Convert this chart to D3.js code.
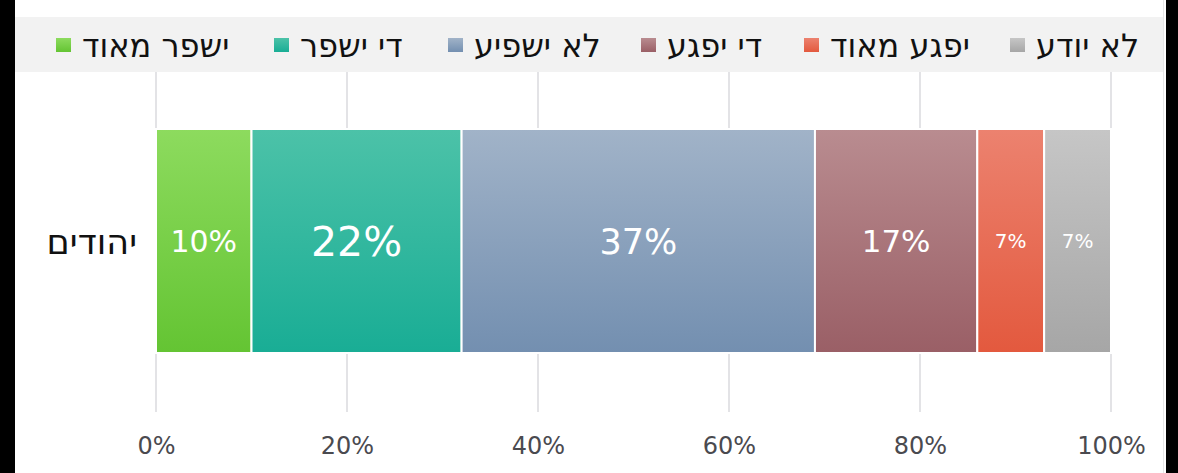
<!DOCTYPE html>
<html>
<head>
<meta charset="utf-8">
<script src="https://cdn.jsdelivr.net/npm/d3@7"></script>
<style>
  html, body { margin: 0; padding: 0; background: #000; }
  svg { display: block; }
  text { font-family: "DejaVu Sans", Verdana, sans-serif; }
</style>
</head>
<body>
<div id="chart-area"></div>
<script>
var categories = ["יהודים"];
var seriesNames = ["ישפר מאוד", "די ישפר", "לא ישפיע", "די יפגע", "יפגע מאוד", "לא יודע"];
var seriesValues = [10, 22, 37, 17, 7, 7];
var tickValues = [0, 20, 40, 60, 80, 100];

// gradient stops per series (top, bottom)
var colorsTop = ["#8ddb5e", "#4cc2a8", "#a1b3c8", "#b98c90", "#ec826f", "#c6c6c6"];
var colorsBottom = ["#64c433", "#19ad95", "#738fb0", "#9a5f66", "#e3593e", "#a6a6a6"];
var labelSizes = [30, 41, 35, 31, 20, 20];

var W = 1178, H = 473;
var svg = d3.select("#chart-area").append("svg")
  .attr("width", W).attr("height", H);

// white panel
svg.append("rect").attr("x", 15).attr("y", 0).attr("width", 1151).attr("height", H).attr("fill", "#fff");
svg.append("rect").attr("x", 1163).attr("y", 0).attr("width", 1).attr("height", H).attr("fill", "#e6e6e6");

var defs = svg.append("defs");
seriesNames.forEach(function(n, i) {
  var lg = defs.append("linearGradient").attr("id", "g" + i)
    .attr("x1", 0).attr("y1", 0).attr("x2", 0).attr("y2", 1);
  lg.append("stop").attr("offset", "0%").attr("stop-color", colorsTop[i]);
  lg.append("stop").attr("offset", "100%").attr("stop-color", colorsBottom[i]);
});

var x = d3.scaleLinear().domain([0, 100]).range([156, 1111]);
var y = d3.scaleBand().domain(categories).range([129, 353]);

// legend band
svg.append("rect").attr("x", 15).attr("y", 17).attr("width", 1148).attr("height", 55).attr("fill", "#f2f2f2");

// grid
var xAxis = d3.axisBottom(x).tickValues(tickValues).tickSize(0).tickFormat(function(d) { return d + "%"; });
svg.append("g").selectAll("line").data(tickValues).enter().append("line")
  .attr("x1", function(d) { return x(d); }).attr("x2", function(d) { return x(d); })
  .attr("y1", 72).attr("y2", 412)
  .attr("stroke", "#e3e3e6").attr("stroke-width", 2);

var axisG = svg.append("g").attr("transform", "translate(0,412)").call(xAxis);
axisG.select(".domain").remove();
axisG.selectAll("text")
  .attr("y", 42).attr("dy", 0)
  .attr("font-size", "24px")
  .attr("fill", "#4a4a4f")
  .style("font-family", "DejaVu Sans, sans-serif");

// stacked segments
var cum = 0;
var segs = seriesValues.map(function(v, i) {
  var s = { name: seriesNames[i], value: v, x0: cum, x1: cum + v, i: i };
  cum += v;
  return s;
});

var row = svg.append("g");
row.selectAll("rect").data(segs).enter().append("rect")
  .attr("x", function(d) { return x(d.x0); })
  .attr("y", y(categories[0]))
  .attr("width", function(d) { return x(d.x1) - x(d.x0); })
  .attr("height", y.bandwidth())
  .attr("fill", function(d) { return "url(#g" + d.i + ")"; })
  .attr("stroke", "#fff").attr("stroke-width", 2);

row.selectAll("text").data(segs).enter().append("text")
  .attr("x", function(d) { return (x(d.x0) + x(d.x1)) / 2; })
  .attr("y", y(categories[0]) + y.bandwidth() / 2)
  .attr("dy", "0.36em")
  .attr("text-anchor", "middle")
  .attr("fill", "#fff")
  .attr("font-size", function(d) { return labelSizes[d.i] + "px"; })
  .text(function(d) { return d.value + "%"; });

// category label
svg.append("text")
  .attr("x", 137).attr("y", y(categories[0]) + y.bandwidth() / 2)
  .attr("dy", "0.36em")
  .attr("text-anchor", "end")
  .attr("font-size", "35px").attr("fill", "#111")
  .text(categories[0]);

// legend
var legendX = [56, 274, 448, 641, 804, 1010];
var leg = svg.append("g").selectAll("g").data(seriesNames).enter().append("g")
  .attr("transform", function(d, i) { return "translate(" + legendX[i] + ",45)"; });
leg.append("rect").attr("x", 0).attr("y", -7).attr("width", 15).attr("height", 14)
  .attr("fill", function(d, i) { return "url(#g" + i + ")"; });
leg.append("text").attr("x", 26).attr("y", 0).attr("dy", "0.36em")
  .attr("text-anchor", "start")
  .attr("font-size", "32px").attr("fill", "#111")
  .text(function(d) { return d; });
</script>
</body>
</html>
